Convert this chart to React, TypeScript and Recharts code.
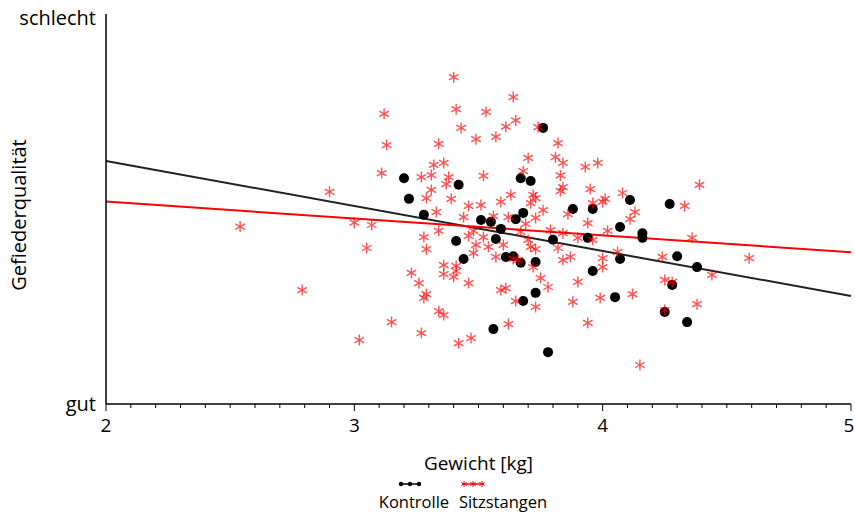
import React from 'react';
import { ScatterChart, Scatter, XAxis, YAxis, ReferenceLine } from 'recharts';

const xTicks = [2, 2.1, 2.2, 2.3, 2.4, 2.5, 2.6, 2.7, 2.8, 2.9, 3, 3.1, 3.2, 3.3, 3.4, 3.5, 3.6, 3.7, 3.8, 3.9, 4, 4.1, 4.2, 4.3, 4.4, 4.5, 4.6, 4.7, 4.8, 4.9, 5];
const xMajorTicks = [2, 3, 4, 5];
const yTicks = [0, 100];
const yTickLabels = ['gut', 'schlecht'];

const seriesNames = ['Kontrolle', 'Sitzstangen'];

const controlX = [3.20, 3.22, 3.28, 3.42, 3.76, 3.67, 3.71, 3.51, 3.55, 3.59, 3.65, 3.68, 3.41, 3.44, 3.57, 3.61, 3.64, 3.67, 3.73, 3.73, 3.68, 3.56, 3.80, 3.88, 3.96, 3.94, 3.96, 4.11, 4.07, 4.07, 4.16, 4.16, 4.27, 4.30, 4.38, 4.28, 4.25, 4.34, 4.05, 3.78];
const controlY = [57.9, 52.6, 48.5, 56.2, 70.8, 57.9, 57.2, 47.2, 46.7, 44.9, 47.4, 49.0, 41.8, 37.2, 42.3, 37.7, 37.9, 36.2, 36.4, 28.5, 26.4, 19.2, 42.1, 50.0, 50.0, 42.6, 34.1, 52.3, 45.4, 37.2, 43.8, 42.6, 51.3, 37.9, 35.1, 30.5, 23.6, 21.0, 27.4, 13.3];

const perchX = [2.54, 2.79, 2.90, 3.00, 3.02, 3.40, 3.64, 3.12, 3.41, 3.53, 3.43, 3.65, 3.61, 3.13, 3.34, 3.49, 3.57, 3.70, 3.11, 3.32, 3.36, 3.27, 3.31, 3.38, 3.52, 3.68, 3.37, 3.31, 3.29, 3.39, 3.63, 3.46, 3.51, 3.59, 3.33, 3.44, 3.56, 3.62, 3.07, 3.48, 3.34, 3.28, 3.46, 3.52, 3.49, 3.54, 3.60, 3.29, 3.48, 3.57, 3.36, 3.41, 3.64, 3.66, 3.05, 3.36, 3.40, 3.41, 3.23, 3.26, 3.46, 3.29, 3.28, 3.59, 3.61, 3.65, 3.34, 3.36, 3.15, 3.62, 3.27, 3.42, 3.47, 3.74, 3.82, 3.81, 3.84, 3.93, 3.98, 3.83, 3.84, 3.83, 3.95, 3.72, 3.73, 3.71, 3.76, 4.08, 4.01, 4.00, 3.96, 4.39, 4.33, 4.13, 4.11, 3.86, 3.94, 3.73, 3.69, 4.02, 4.36, 3.79, 3.84, 3.67, 3.90, 3.96, 3.70, 3.71, 3.73, 3.82, 3.87, 3.84, 4.00, 4.06, 4.00, 4.24, 4.59, 3.72, 3.75, 3.78, 3.90, 4.25, 4.28, 4.44, 3.73, 3.88, 3.99, 4.12, 4.38, 4.25, 3.94, 4.15];
const perchY = [45.5, 29.2, 54.4, 46.5, 16.4, 83.8, 78.7, 74.4, 75.6, 74.9, 70.8, 72.7, 71.1, 66.4, 66.7, 67.9, 68.5, 63.1, 59.2, 61.3, 61.8, 58.2, 58.7, 58.2, 58.5, 59.7, 56.4, 54.9, 52.8, 52.6, 53.6, 50.8, 51.0, 51.8, 49.2, 47.9, 48.2, 47.9, 45.9, 44.4, 44.4, 42.8, 43.1, 42.8, 40.8, 40.3, 40.8, 39.7, 38.7, 37.7, 35.6, 35.4, 37.2, 36.9, 40.0, 33.3, 32.6, 34.1, 33.6, 31.0, 31.0, 28.2, 27.2, 29.2, 29.7, 26.4, 23.8, 22.8, 21.0, 20.5, 18.2, 15.6, 16.9, 71.0, 66.9, 63.3, 61.8, 60.8, 61.8, 58.6, 55.6, 54.6, 55.1, 53.6, 52.8, 51.5, 49.7, 54.1, 52.6, 51.8, 51.5, 56.2, 50.8, 49.2, 47.4, 48.7, 46.4, 47.7, 46.2, 44.4, 42.6, 44.6, 43.8, 44.1, 42.6, 42.1, 42.1, 40.3, 39.7, 40.0, 37.7, 36.9, 37.4, 39.0, 35.1, 37.7, 37.4, 35.1, 32.3, 30.0, 31.3, 31.8, 31.3, 33.1, 24.9, 26.2, 27.2, 28.2, 25.6, 24.1, 20.8, 10.0];

const fitX = [2, 5];
const controlFitY = [62.3, 27.7];
const perchFitY = [51.9, 38.9];

const controlData = controlX.map((x, i) => ({ x, y: controlY[i] }));
const perchData = perchX.map((x, i) => ({ x, y: perchY[i] }));

const FONT = '"Open Sans", sans-serif';
const STAR_COLOR = 'rgba(255,0,0,0.68)';

const starPath = (cx: number, cy: number, r: number) => {
  const dx = r * Math.cos(Math.PI / 6);
  const dy = r * Math.sin(Math.PI / 6);
  return `M${cx},${cy - r}L${cx},${cy + r}M${cx - dx},${cy - dy}L${cx + dx},${cy + dy}M${cx - dx},${cy + dy}L${cx + dx},${cy - dy}`;
};

const Star = (props: any) => {
  const { cx, cy } = props;
  if (cx == null || cy == null) return null;
  return <path d={starPath(cx, cy, 5.5)} stroke={STAR_COLOR} strokeWidth={1.4} fill="none" />;
};

const Dot = (props: any) => {
  const { cx, cy } = props;
  if (cx == null || cy == null) return null;
  return <circle cx={cx} cy={cy} r={5} fill="#000" />;
};

const XTick = (props: any) => {
  const { x, y, payload } = props;
  const v = payload.value;
  const major = xMajorTicks.some((m) => Math.abs(m - v) < 1e-6);
  const isLast = Math.abs(v - xMajorTicks[xMajorTicks.length - 1]) < 1e-6;
  return (
    <g>
      <line x1={x} x2={x} y1={y} y2={y + (major ? 7 : 4)} stroke="#000" strokeWidth={1} />
      {major && (
        <text x={isLast ? x - 2 : x} y={y + 21} textAnchor="middle" dominantBaseline="central" fontSize={19} fontFamily={FONT} fill="#000">
          {String(v)}
        </text>
      )}
    </g>
  );
};

const YTick = (props: any) => {
  const { x, y, payload } = props;
  const idx = yTicks.indexOf(payload.value);
  return (
    <text x={x} y={y + (idx === 1 ? 3 : -1)} textAnchor="end" dominantBaseline="central" fontSize={20} fontFamily={FONT} fill="#000">
      {yTickLabels[idx]}
    </text>
  );
};

const YLabel = (props: any) => {
  const vb = props.viewBox || { x: 0, y: 14, width: 106, height: 390 };
  const x = vb.x + 18;
  const y = vb.y + vb.height / 2 + 6;
  return (
    <text x={x} y={y} transform={`rotate(-90, ${x}, ${y})`} textAnchor="middle" dominantBaseline="central" fontSize={20} fontFamily={FONT} fill="#000">
      Gefiederqualität
    </text>
  );
};

const Legend = () => (
  <svg width={855} height={513} style={{ position: 'absolute', left: 0, top: 0, pointerEvents: 'none' }}>
    <line x1={400} x2={420} y1={484} y2={484} stroke="#000" strokeWidth={1.5} />
    {[401, 410, 419].map((cx) => (
      <circle key={cx} cx={cx} cy={484} r={2.2} fill="#000" />
    ))}
    <line x1={462} x2={484} y1={484} y2={484} stroke="#f00" strokeWidth={1.5} />
    {[464, 473, 482].map((cx) => (
      <path key={cx} d={starPath(cx, 484, 3)} stroke="#f00" strokeWidth={1} fill="none" />
    ))}
    <text x={414} y={501} textAnchor="middle" dominantBaseline="central" fontSize={16.5} fontFamily={FONT} fill="#000">
      {seriesNames[0]}
    </text>
    <text x={503} y={501} textAnchor="middle" dominantBaseline="central" fontSize={16.5} fontFamily={FONT} fill="#000">
      {seriesNames[1]}
    </text>
  </svg>
);

export default function App() {
  return (
    <div style={{ position: 'relative', width: 855, height: 513, fontFamily: FONT }}>
      <style>{'html,body{margin:0;padding:0;overflow:hidden;}'}</style>
      <ScatterChart width={855} height={513} margin={{ top: 14, right: 4, left: 0, bottom: 39 }}>
        <XAxis
          type="number"
          dataKey="x"
          domain={[2, 5]}
          ticks={xTicks}
          interval={0}
          height={70}
          tick={<XTick />}
          tickLine={false}
          tickSize={0}
          tickMargin={0}
          axisLine={{ stroke: '#000', strokeWidth: 1.5 }}
          allowDecimals
          label={{ value: 'Gewicht [kg]', position: 'insideBottom', offset: 4, fill: '#000', fontSize: 19, fontFamily: FONT }}
        />
        <XAxis
          xAxisId="top"
          orientation="top"
          type="number"
          dataKey="x"
          domain={[2, 5]}
          height={0}
          tick={false}
          tickLine={false}
          axisLine={{ stroke: '#000', strokeWidth: 1.5 }}
        />
        <YAxis
          type="number"
          dataKey="y"
          domain={[0, 100]}
          ticks={yTicks}
          interval={0}
          width={106}
          tick={<YTick />}
          tickLine={false}
          tickSize={0}
          tickMargin={10}
          axisLine={{ stroke: '#000', strokeWidth: 1.5 }}
          label={{ content: (p: any) => <YLabel {...p} /> }}
        />
        <YAxis
          yAxisId="right"
          orientation="right"
          type="number"
          dataKey="y"
          domain={[0, 100]}
          width={0}
          tick={false}
          tickLine={false}
          axisLine={{ stroke: '#000', strokeWidth: 1.5 }}
        />
        <Scatter name={seriesNames[0]} data={controlData} shape={<Dot />} isAnimationActive={false} />
        <Scatter name={seriesNames[1]} data={perchData} shape={<Star />} isAnimationActive={false} />
        <ReferenceLine
          segment={[{ x: fitX[0], y: controlFitY[0] }, { x: fitX[1], y: controlFitY[1] }]}
          stroke="#222"
          strokeWidth={2}
          ifOverflow="visible"
        />
        <ReferenceLine
          segment={[{ x: fitX[0], y: perchFitY[0] }, { x: fitX[1], y: perchFitY[1] }]}
          stroke="#ff0000"
          strokeWidth={2}
          ifOverflow="visible"
        />
      </ScatterChart>
      <Legend />
    </div>
  );
}
